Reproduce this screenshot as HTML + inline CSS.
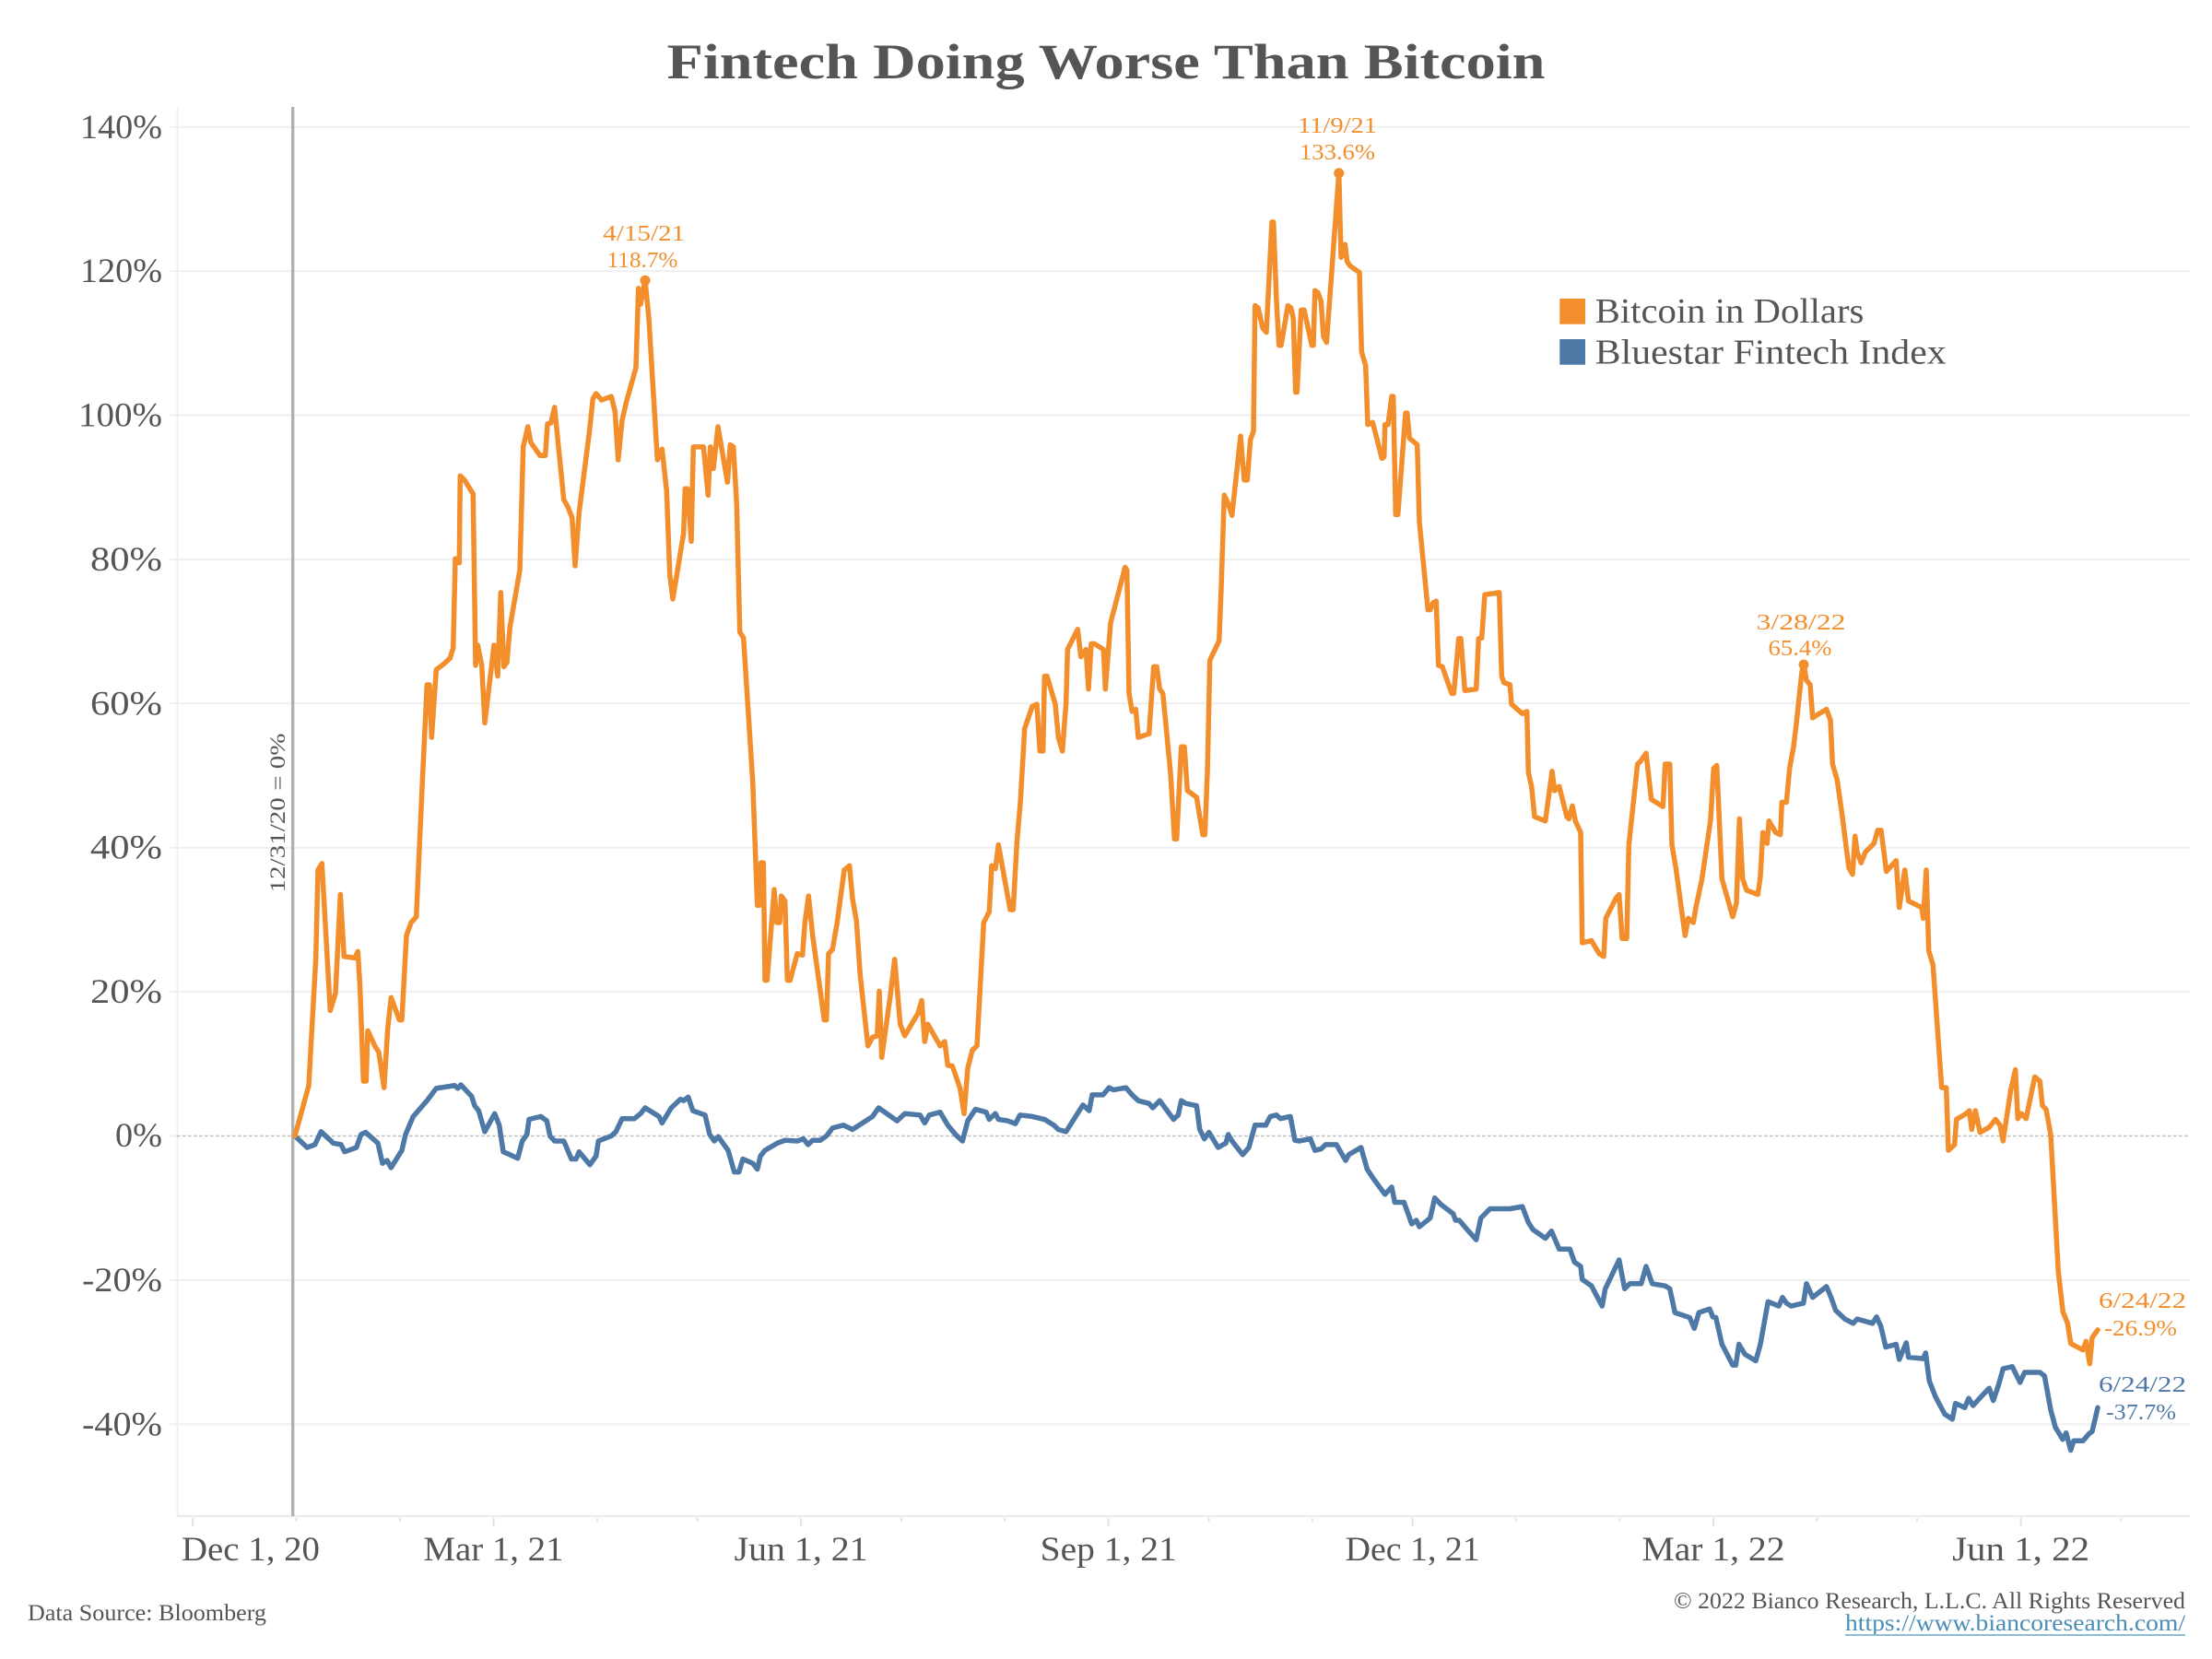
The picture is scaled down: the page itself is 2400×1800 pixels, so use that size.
<!DOCTYPE html>
<html>
<head>
<meta charset="utf-8">
<style>
html,body{margin:0;padding:0;background:#fff;}
svg{display:block;}
text{font-family:"Liberation Serif","DejaVu Serif",serif;}
</style>
</head>
<body>
<svg xmlns="http://www.w3.org/2000/svg" width="2400" height="1800" viewBox="0 0 2400 1800">
<rect x="0" y="0" width="2400" height="1800" fill="#ffffff"/>

<!-- Title -->
<text x="1200" y="85" text-anchor="middle" font-size="54" font-weight="bold" fill="#555555" textLength="953" lengthAdjust="spacingAndGlyphs">Fintech Doing Worse Than Bitcoin</text>

<!-- gridlines -->
<g stroke="#efefef" stroke-width="2">
<line x1="183" y1="137.7" x2="2376" y2="137.7"/>
<line x1="183" y1="294.1" x2="2376" y2="294.1"/>
<line x1="183" y1="450.5" x2="2376" y2="450.5"/>
<line x1="183" y1="606.9" x2="2376" y2="606.9"/>
<line x1="183" y1="763.3" x2="2376" y2="763.3"/>
<line x1="183" y1="919.7" x2="2376" y2="919.7"/>
<line x1="183" y1="1076.1" x2="2376" y2="1076.1"/>
<line x1="183" y1="1388.9" x2="2376" y2="1388.9"/>
<line x1="183" y1="1545.3" x2="2376" y2="1545.3"/>
<line x1="183" y1="1232.5" x2="192" y2="1232.5"/>
</g>
<!-- axes -->
<line x1="192.5" y1="116" x2="192.5" y2="1645" stroke="#f0f0f0" stroke-width="2"/>
<line x1="192" y1="1645" x2="2376" y2="1645" stroke="#ececec" stroke-width="2.5"/>
<!-- zero dashed line -->
<line x1="192" y1="1232.5" x2="2376" y2="1232.5" stroke="#bdbdbd" stroke-width="1.6" stroke-dasharray="3.5,2.5"/>

<!-- x ticks -->
<g stroke="#e3e3e3" stroke-width="2">
<line x1="209.2" y1="1647" x2="209.2" y2="1656"/>
<line x1="321.6" y1="1647" x2="321.6" y2="1651"/>
<line x1="434" y1="1647" x2="434" y2="1651"/>
<line x1="535.5" y1="1647" x2="535.5" y2="1656"/>
<line x1="648" y1="1647" x2="648" y2="1651"/>
<line x1="756.7" y1="1647" x2="756.7" y2="1651"/>
<line x1="869.1" y1="1647" x2="869.1" y2="1656"/>
<line x1="977.9" y1="1647" x2="977.9" y2="1651"/>
<line x1="1090.3" y1="1647" x2="1090.3" y2="1651"/>
<line x1="1202.7" y1="1647" x2="1202.7" y2="1656"/>
<line x1="1311.5" y1="1647" x2="1311.5" y2="1651"/>
<line x1="1423.9" y1="1647" x2="1423.9" y2="1651"/>
<line x1="1532.7" y1="1647" x2="1532.7" y2="1656"/>
<line x1="1645.1" y1="1647" x2="1645.1" y2="1651"/>
<line x1="1757.5" y1="1647" x2="1757.5" y2="1651"/>
<line x1="1859" y1="1647" x2="1859" y2="1656"/>
<line x1="1971.4" y1="1647" x2="1971.4" y2="1651"/>
<line x1="2080.2" y1="1647" x2="2080.2" y2="1651"/>
<line x1="2192.6" y1="1647" x2="2192.6" y2="1656"/>
<line x1="2301.4" y1="1647" x2="2301.4" y2="1651"/>
</g>

<!-- 12/31/20 vertical line -->
<line x1="317.7" y1="116" x2="317.7" y2="1645" stroke="#b0b0b0" stroke-width="3.3"/>
<text transform="translate(309,882) rotate(-90)" x="0" y="0" text-anchor="middle" font-size="23" fill="#555555" textLength="173" lengthAdjust="spacingAndGlyphs">12/31/20 = 0%</text>

<!-- Y labels -->
<g font-size="37" fill="#555555" text-anchor="end">
<text x="176" y="150" textLength="89" lengthAdjust="spacingAndGlyphs">140%</text>
<text x="176" y="306" textLength="89" lengthAdjust="spacingAndGlyphs">120%</text>
<text x="176" y="462.5" textLength="91" lengthAdjust="spacingAndGlyphs">100%</text>
<text x="176" y="619" textLength="78" lengthAdjust="spacingAndGlyphs">80%</text>
<text x="176" y="775.3" textLength="78" lengthAdjust="spacingAndGlyphs">60%</text>
<text x="176" y="931.7" textLength="78" lengthAdjust="spacingAndGlyphs">40%</text>
<text x="176" y="1088.1" textLength="78" lengthAdjust="spacingAndGlyphs">20%</text>
<text x="176" y="1244" textLength="51" lengthAdjust="spacingAndGlyphs">0%</text>
<text x="176" y="1400.9" textLength="87" lengthAdjust="spacingAndGlyphs">-20%</text>
<text x="176" y="1557.3" textLength="87" lengthAdjust="spacingAndGlyphs">-40%</text>
</g>

<!-- X labels -->
<g font-size="37" fill="#555555">
<text x="197" y="1693" textLength="150" lengthAdjust="spacingAndGlyphs">Dec 1, 20</text>
<text x="535.5" y="1693" text-anchor="middle" textLength="152" lengthAdjust="spacingAndGlyphs">Mar 1, 21</text>
<text x="869.1" y="1693" text-anchor="middle" textLength="145" lengthAdjust="spacingAndGlyphs">Jun 1, 21</text>
<text x="1202.7" y="1693" text-anchor="middle" textLength="148" lengthAdjust="spacingAndGlyphs">Sep 1, 21</text>
<text x="1532.7" y="1693" text-anchor="middle" textLength="146" lengthAdjust="spacingAndGlyphs">Dec 1, 21</text>
<text x="1859" y="1693" text-anchor="middle" textLength="155" lengthAdjust="spacingAndGlyphs">Mar 1, 22</text>
<text x="2192.6" y="1693" text-anchor="middle" textLength="149" lengthAdjust="spacingAndGlyphs">Jun 1, 22</text>
</g>

<!-- Blue series -->
<polyline fill="none" stroke="#4E79A7" stroke-width="5.5" stroke-linejoin="round" stroke-linecap="round" vector-effect="non-scaling-stroke" transform="matrix(1 0 0 -7.82 0 1232.5)" points="
320,0 333.3,-1.6 341.7,-1.2 348.3,0.6 361.7,-1.0 370,-1.2 374,-2.2 386.7,-1.6 391.7,0.2 396.7,0.5 410,-1.0 415,-3.8 420,-3.4 424.3,-4.4 436,-2.0 440,0.2 448.3,2.7 463.3,4.9 473.3,6.6 493.3,7.0 496.7,6.6 500,7.1 511.7,5.5 515,4.2 519.3,3.5 526,0.6 536.7,3.1 541.7,1.5 546,-2.2 553.3,-2.6 561.7,-3.1 566.7,-0.7 571.7,0.2 574,2.3 586.7,2.7 593.3,2.1 596.7,0 601.7,-0.7 611.7,-0.7 620,-3.2 625,-3.2 628.3,-2.2 640,-4.0 646.7,-2.8 649.3,-0.7 663.3,0 668.3,0.6 675,2.4 688.3,2.4 695,3.1 700,3.9 715,2.7 718.3,1.8 728.3,3.9 738.3,5.1 741.7,4.9 746.7,5.4 751.7,3.5 765,2.9 770,0.2 775,-0.7 779.3,-0.1 790,-2.0 796.7,-5.0 801.7,-5.0 806,-3.2 816.7,-3.8 821.7,-4.6 825,-2.8 830,-2.0 843.3,-1.0 851.7,-0.6 865,-0.7 871.7,-0.4 876.7,-1.2 881.7,-0.6 890,-0.6 896.7,0 903.3,1.1 915,1.5 925,0.9 946.7,2.7 953.3,3.9 973.3,2.1 981.7,3.1 998.3,2.9 1003.3,1.8 1008.3,2.9 1020,3.3 1028.3,1.5 1036.7,0.2 1044.3,-0.7 1050,2.1 1058.3,3.7 1070,3.3 1073.3,2.3 1080,3.1 1083.3,2.3 1093.3,2.1 1101.7,1.7 1106.7,2.9 1120,2.7 1133.3,2.3 1143.3,1.5 1148.3,0.9 1156.7,0.6 1170,3.3 1175,4.3 1181.7,3.5 1185,5.7 1196.7,5.7 1203.3,6.7 1208.3,6.4 1221.7,6.7 1228.3,5.7 1235,4.9 1246.7,4.5 1250.7,3.9 1258.3,4.9 1273.3,2.3 1278.3,2.9 1281.7,4.9 1286.7,4.5 1298.3,4.2 1301.7,0.9 1306.7,-0.4 1311.7,0.5 1321.7,-1.6 1330,-1.0 1332.7,0.2 1336.7,-0.7 1348.3,-2.6 1355,-1.6 1361.7,1.5 1373.3,1.5 1378.3,2.7 1385,2.9 1389.3,2.4 1400,2.7 1405,-0.6 1410,-0.7 1421.7,-0.4 1426.7,-2.0 1433.3,-1.8 1438.3,-1.2 1450,-1.2 1460,-3.4 1463.3,-2.6 1476.7,-1.6 1483.3,-4.6 1490,-5.9 1502.7,-8.1 1510,-7.1 1513.3,-9.2 1523.3,-9.2 1531.7,-12.2 1536.7,-11.7 1540,-12.6 1551.7,-11.4 1556.7,-8.6 1563.3,-9.5 1576.7,-10.8 1579.3,-11.7 1583.3,-11.7 1593.3,-13.2 1601.7,-14.4 1606.7,-11.4 1616.7,-10.1 1638.3,-10.1 1651.7,-9.8 1658.3,-12.0 1663.3,-13.0 1676.7,-14.2 1683.3,-13.2 1691.7,-15.7 1703.3,-15.7 1708.3,-17.5 1715,-18.1 1716.7,-19.9 1726.7,-20.8 1733.3,-22.4 1738.3,-23.6 1741.7,-21.2 1756.7,-17.2 1762.7,-21.2 1768.3,-20.5 1780.7,-20.5 1786,-18.1 1792.7,-20.5 1806.7,-20.8 1811.7,-21.2 1817.3,-24.5 1833.3,-25.2 1838.3,-26.7 1843.3,-24.5 1855,-24.0 1858.3,-25.1 1861.7,-25.2 1868.3,-28.9 1880,-31.8 1883.3,-31.8 1886.7,-28.9 1893.3,-30.3 1905,-31.2 1910,-28.9 1918.3,-23.0 1930,-23.6 1934,-22.4 1938.3,-23.2 1943.3,-23.6 1956.7,-23.2 1960,-20.5 1966.7,-22.4 1981.7,-20.9 1986.7,-22.4 1991.7,-24.2 2001.7,-25.4 2010.7,-26.0 2015,-25.4 2031.7,-26.0 2036,-25.1 2040.7,-26.4 2046,-29.3 2057.3,-28.9 2060.7,-31.0 2068.3,-28.7 2070.7,-30.7 2086.7,-30.9 2089.3,-30.1 2093.3,-34.0 2100,-36.2 2110,-38.6 2118.3,-39.3 2121.7,-37.1 2131.7,-37.7 2136,-36.4 2140.7,-37.4 2150,-36.1 2158.3,-35.0 2162.7,-36.7 2168.3,-34.6 2173.3,-32.3 2183.3,-32.0 2191.7,-34.2 2196.7,-32.8 2213.3,-32.8 2218.3,-33.3 2225,-38.0 2230,-40.4 2238,-42.1 2241.7,-41.2 2246.7,-43.6 2250,-42.3 2260,-42.3 2266.7,-41.3 2270,-41.0 2276,-37.7"/>

<!-- Orange series -->
<polyline fill="none" stroke="#F28E2B" stroke-width="5.5" stroke-linejoin="round" stroke-linecap="round" vector-effect="non-scaling-stroke" transform="matrix(1 0 0 -7.82 0 1232.5)" points="
320,0 335,7.0 342.7,24.7 345,36.9 349.3,37.8 358.3,17.4 364,19.8 369.3,33.5 373.3,24.9 385,24.7 388.3,25.6 390.7,20.4 394.3,7.6 397.3,7.6 399,14.6 406.7,12.5 411,11.6 416.7,6.7 420.7,14.9 424.3,19.2 433.3,16.1 436,16.1 441,27.8 446,29.6 451.7,30.4 458.3,49.2 463.3,62.6 466,62.6 468.3,55.3 473.3,64.7 481.7,65.5 488.3,66.3 491.7,67.7 494,80.1 498.3,79.5 499.3,91.6 504,91.0 513.3,89.1 516,65.3 518.3,68.1 522.7,65.3 526,57.3 536,68.1 540,63.8 543.3,75.4 546.7,65.1 550,65.7 553.3,70.6 564,78.5 567.7,95.6 572.7,98.4 576,96.2 586,94.4 591.7,94.4 594,98.8 597.7,98.9 601.7,101.1 611.7,88.3 616,87.3 620.7,85.8 624,79.1 628.3,86.5 639.3,97.5 643.3,102.3 646.7,103.0 652.7,102.1 663.3,102.6 667.3,100.5 670.7,93.8 675,99.3 679.3,101.7 690,106.6 692.7,117.6 695,115.4 698.3,117.6 700,118.7 704,113.4 713.3,93.8 718.3,95.3 723.3,89.5 726.7,77.9 730,74.5 741.7,83.6 743.3,89.8 746,89.8 750,82.5 752.3,95.6 763.3,95.6 768.3,88.9 770.7,95.6 774,92.6 779,98.4 789.3,90.7 792.3,95.9 795.7,95.6 799.3,87.7 802.7,69.9 806.7,69.1 816.7,49.2 821.7,32.0 824,32.0 825.7,37.9 828.3,37.9 830,21.6 832.3,21.6 840,34.2 842.7,29.6 846,29.6 847.7,33.3 851.7,32.6 854.3,21.6 857.3,21.6 865,25.3 870.7,25.1 873.3,29.6 877.3,33.3 881.7,27.8 894.3,16.1 896.7,16.1 899,25.3 903.3,25.9 908.3,29.6 916,36.9 921.7,37.5 925,32.9 929.3,29.8 933.3,22.3 941.7,12.5 946.7,13.7 951.7,13.9 954,20.1 956.7,10.9 965.7,19.2 970.7,24.5 976.7,15.5 981.7,13.9 991.7,16.1 996,17.0 1000,18.8 1003.3,13.1 1006.7,15.5 1020,12.5 1025,13.1 1028.3,9.8 1033.3,9.7 1041.7,6.6 1046,3.1 1050,9.4 1055,11.9 1060,12.5 1067.3,29.6 1073.3,31.1 1076,37.5 1080,37.1 1083.3,40.4 1096,31.4 1099.3,31.4 1103.3,40.6 1107.3,46.7 1111.7,56.5 1120,59.6 1125,59.9 1128.3,53.4 1131.7,53.4 1133.3,63.8 1136,63.8 1145,59.9 1148.3,55.3 1152.7,53.4 1156.7,60.2 1158.3,67.5 1169.3,70.3 1172.7,66.5 1178.3,67.5 1181,62.0 1184,68.3 1187.3,68.3 1197.3,67.5 1199.3,62.0 1205,71.2 1220.7,78.9 1222.7,78.5 1225,61.4 1228.3,58.9 1232.3,59.2 1235,55.3 1246.7,55.8 1251.7,65.1 1255,65.1 1258.3,62.0 1261.7,61.4 1270,50.4 1274.3,41.2 1276.7,41.2 1281.7,54.0 1285,54.0 1288.3,47.9 1298.3,47.0 1301.7,44.3 1305,41.8 1307.3,41.8 1310,50.4 1312.7,66.0 1322.7,68.7 1325,76.0 1328.3,88.9 1332.7,87.7 1336.7,86.1 1346,97.1 1350,91.0 1353.3,91.0 1356.7,96.6 1360,97.8 1361.7,115.2 1365,114.9 1370,112.1 1374,111.5 1380,126.8 1381.7,126.8 1385,115.8 1387.7,109.7 1390,109.7 1397.3,115.2 1400.7,114.9 1403.3,113.4 1405.7,103.2 1407.3,103.2 1411.7,114.6 1415,114.6 1423.3,109.7 1425,109.7 1426.7,117.3 1430,117.0 1433.3,115.8 1436,110.9 1439.3,110.1 1452.7,133.6 1455,121.9 1457.7,122.3 1459.3,123.7 1461.7,121.3 1465,120.7 1475,119.8 1477.3,108.8 1481.7,106.9 1484,98.7 1489.3,99.0 1495,96.2 1499.3,94.0 1501.7,94.2 1502.7,98.7 1506,98.7 1510,102.6 1511.7,102.6 1514.3,86.2 1516.7,86.2 1525,100.3 1526.7,100.3 1529.3,96.8 1537.7,95.9 1540,85.2 1549.3,73.0 1551.7,73.0 1555,74.0 1558.3,74.2 1560.7,65.3 1565,65.1 1575,61.4 1577.3,61.4 1582.7,69.0 1585,69.0 1589.3,61.8 1601.7,62.0 1604.3,69.0 1607.7,69.1 1611,75.1 1626.7,75.4 1629.3,63.8 1631.7,62.9 1638.3,62.6 1640,59.9 1651.7,58.6 1656.7,58.9 1658.3,50.4 1661.7,48.5 1665,44.3 1676.7,43.7 1684,50.6 1686.7,47.9 1691.7,48.5 1700,44.3 1702.3,44.0 1706,45.8 1709.3,43.7 1715,42.1 1716.7,26.8 1726.7,27.1 1735,25.3 1740,24.9 1742.3,30.2 1753.3,33.0 1756.7,33.5 1760,27.4 1765,27.4 1767.3,40.4 1776.7,51.6 1780,52.0 1786,53.1 1791.7,46.7 1804.3,45.7 1806.7,51.6 1811.7,51.6 1814,40.4 1818.3,37.2 1828.3,27.8 1831.7,30.2 1837.3,29.6 1840,31.7 1846.7,35.7 1856,43.9 1859.3,51.0 1862.7,51.4 1868.3,35.7 1880,30.4 1884,32.3 1887.3,44.0 1890.7,35.7 1895,34.1 1907.3,33.5 1910,36.0 1912.7,42.1 1917.3,40.6 1919.3,43.7 1926.7,42.1 1931.7,41.8 1933.3,46.3 1938.3,46.3 1941.7,51.0 1946,54.0 1949.3,57.5 1955,64.4 1957.3,65.4 1960,63.2 1964,62.6 1966.7,58.0 1970,58.3 1981.7,59.2 1986,57.7 1988.3,51.6 1993.3,49.4 1998.3,44.9 2006,37.2 2010,36.3 2012.7,41.6 2015,39.4 2019.3,37.9 2024,39.4 2033.3,40.6 2037.3,42.4 2041,42.4 2046.7,36.7 2057.3,38.2 2060.7,31.7 2066.7,36.9 2070.7,32.6 2085,31.7 2086.7,30.2 2090,36.9 2092.7,25.7 2097.3,23.7 2106.7,6.7 2111.7,6.7 2114,-2.0 2120.7,-1.2 2122.7,2.3 2133.3,3.1 2136.7,3.5 2139.3,0.9 2143.3,3.5 2148.3,0.5 2158.3,1.2 2165,2.3 2170,1.5 2173.3,-0.7 2181.7,6.4 2186.7,9.2 2189.3,2.4 2193.3,3.1 2198.3,2.4 2207.7,8.2 2213.3,7.6 2216,4.2 2220,3.7 2225,0.2 2233.3,-18.9 2238.3,-24.4 2243.3,-26.0 2246.7,-28.8 2260,-29.7 2263.3,-28.5 2267.3,-31.6 2270,-28.0 2276,-26.9"/>

<!-- Peak markers -->
<g fill="#F28E2B">
<circle cx="700" cy="304.3" r="5.5"/>
<circle cx="1452.7" cy="187.8" r="5.5"/>
<circle cx="1957" cy="721.1" r="5.5"/>
</g>

<!-- Annotations -->
<g font-size="24" fill="#F28E2B">
<text x="698.7" y="261" text-anchor="middle" textLength="89" lengthAdjust="spacingAndGlyphs">4/15/21</text>
<text x="697" y="290" text-anchor="middle" textLength="77" lengthAdjust="spacingAndGlyphs">118.7%</text>
<text x="1451" y="144" text-anchor="middle" textLength="86" lengthAdjust="spacingAndGlyphs">11/9/21</text>
<text x="1451" y="173" text-anchor="middle" textLength="82" lengthAdjust="spacingAndGlyphs">133.6%</text>
<text x="1954" y="683" text-anchor="middle" textLength="97" lengthAdjust="spacingAndGlyphs">3/28/22</text>
<text x="1953" y="711" text-anchor="middle" textLength="69" lengthAdjust="spacingAndGlyphs">65.4%</text>
<text x="2277" y="1419" textLength="95" lengthAdjust="spacingAndGlyphs">6/24/22</text>
<text x="2283" y="1449" textLength="79" lengthAdjust="spacingAndGlyphs">-26.9%</text>
</g>
<g font-size="24" fill="#4E79A7">
<text x="2277" y="1510" textLength="95" lengthAdjust="spacingAndGlyphs">6/24/22</text>
<text x="2285" y="1540" textLength="76" lengthAdjust="spacingAndGlyphs">-37.7%</text>
</g>

<!-- Legend -->
<rect x="1692.3" y="324" width="27.7" height="27.7" fill="#F28E2B"/>
<rect x="1692.3" y="368" width="27.7" height="27.7" fill="#4E79A7"/>
<g font-size="38" fill="#555555">
<text x="1730.7" y="350" textLength="291.7" lengthAdjust="spacingAndGlyphs">Bitcoin in Dollars</text>
<text x="1730.7" y="394.3" textLength="381" lengthAdjust="spacingAndGlyphs">Bluestar Fintech Index</text>
</g>

<!-- Footer -->
<text x="30" y="1758" font-size="25" fill="#555555" textLength="259" lengthAdjust="spacingAndGlyphs">Data Source: Bloomberg</text>
<text x="2371" y="1745" font-size="25" fill="#555555" text-anchor="end" textLength="555" lengthAdjust="spacingAndGlyphs">© 2022 Bianco Research, L.L.C. All Rights Reserved</text>
<text x="2371" y="1769" font-size="25" fill="#4a8db5" text-anchor="end" textLength="369" lengthAdjust="spacingAndGlyphs">https://www.biancoresearch.com/</text>
<line x1="2002" y1="1774" x2="2371" y2="1774" stroke="#8cbfd6" stroke-width="2"/>
</svg>
</body>
</html>
